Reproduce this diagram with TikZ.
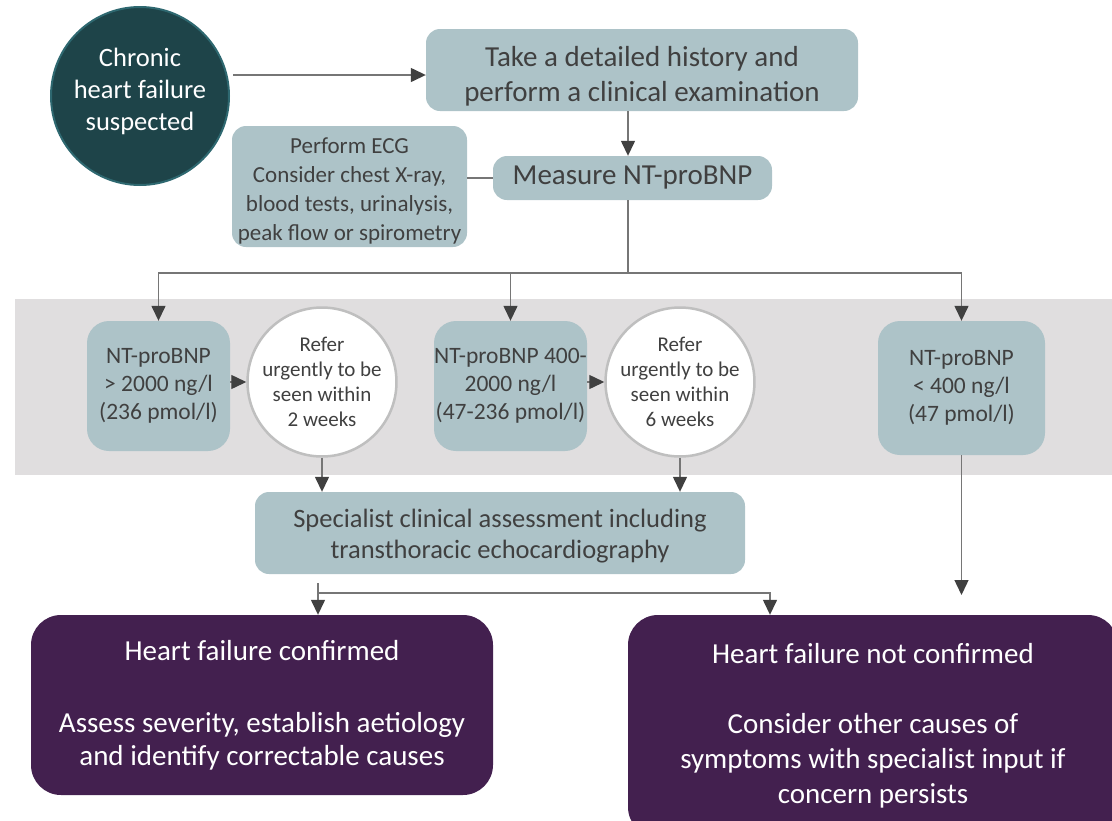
\documentclass[tikz,border=0pt]{standalone}
\usepackage{fontspec}
\setmainfont{Carlito}
\usetikzlibrary{arrows.meta,calc}
\definecolor{boxc}{HTML}{ADC3C8}
\definecolor{txt}{HTML}{404040}
\definecolor{darkteal}{HTML}{1E4449}
\definecolor{tealedge}{HTML}{2E6870}
\definecolor{purp}{HTML}{43204F}
\definecolor{band}{HTML}{E0DEDF}
\definecolor{ringc}{HTML}{BFBFBF}
\definecolor{linec}{HTML}{767676}
\definecolor{arrc}{HTML}{404040}
\tikzset{
  tealbox/.style={fill=boxc, text=txt, align=center, rounded corners=14pt, inner sep=0pt},
  nbox/.style={tealbox, rounded corners=22pt},
  boxtext/.style={text=txt, align=center, inner sep=0pt},
  refer/.style={circle, fill=white, draw=ringc, line width=2.5pt, text=txt, align=center, inner sep=0pt, minimum size=130pt, font={\fontsize{21}{25}\selectfont}},
  purpbox/.style={fill=purp, text=white, align=center, rounded corners=30pt, inner sep=0pt, font={\fontsize{29}{34}\selectfont}},
  ln/.style={draw=linec, line width=1.4pt},
  arr/.style={ln, -{Triangle[length=15pt,width=14pt,color=arrc]}}
}
\begin{document}
\begin{tikzpicture}[x=1pt,y=-1pt]
\useasboundingbox (0,0) rectangle (1112,820);
\clip (0,0) rectangle (1112,820);
% grey band
\fill[band] (15,299) rectangle (1112,475);

% nodes
\node[circle, minimum size=178pt, fill=darkteal, draw=tealedge, line width=2pt, inner sep=0pt,
  label={[font={\fontsize{26.5}{32}\selectfont}, text=white, align=center, yshift=5pt]center:Chronic\\heart failure\\suspected}]
  (chronic) at (140,96) {};
\node[tealbox, minimum width=432pt, minimum height=82pt,
  label={[boxtext, font={\fontsize{29}{35}\selectfont}, yshift=-6pt]center:Take a detailed history and\\perform a clinical examination}]
  (take) at (642,70) {};
\node[tealbox, minimum width=279pt, minimum height=44pt, font={\fontsize{29}{35}\selectfont}]
  (measure) at (632.5,178) {Measure NT-proBNP};
\node[tealbox, minimum width=235pt, minimum height=121pt,
  label={[boxtext, font={\fontsize{23}{29}\selectfont}, yshift=-4pt]center:Perform ECG\\Consider chest X-ray,\\blood tests, urinalysis,\\peak flow or spirometry}]
  (ecg) at (349.5,186.5) {};

\node[nbox, minimum width=143pt, minimum height=130pt, font={\fontsize{23.5}{28}\selectfont}]
  (b1) at (158.5,386) {NT-proBNP\\> 2000 ng/l\\(236 pmol/l)};
\node[refer] (c1) at (322,382) {Refer\\urgently to be\\seen within\\2 weeks};
\node[nbox, minimum width=153pt, minimum height=130pt, font={\fontsize{23.5}{28}\selectfont}]
  (b2) at (510.5,386) {NT-proBNP 400-\\2000 ng/l\\(47-236 pmol/l)};
\node[refer] (c2) at (680,382) {Refer\\urgently to be\\seen within\\6 weeks};
\node[nbox, minimum width=167pt, minimum height=134pt, font={\fontsize{23.5}{28}\selectfont}]
  (b3) at (961.5,388) {NT-proBNP\\< 400 ng/l\\(47 pmol/l)};

\node[tealbox, minimum width=490pt, minimum height=82pt,
  label={[boxtext, font={\fontsize{26.5}{31}\selectfont}, yshift=-3pt]center:Specialist clinical assessment including\\transthoracic echocardiography}]
  (spec) at (500,533) {};

\node[purpbox, minimum width=462pt, minimum height=180pt, font={\fontsize{29}{33}\selectfont}]
  (p1) at (262,705) {Heart failure confirmed\\[39pt]Assess severity, establish aetiology\\and identify correctable causes};
\node[purpbox, minimum width=490pt, minimum height=222pt, font={\fontsize{29}{35}\selectfont}]
  (p2) at (873,726) {Heart failure not confirmed\\[35pt]Consider other causes of\\symptoms with specialist input if\\concern persists};

% connectors
\coordinate (a1) at ([xshift=3pt,yshift=21pt]chronic.east);
\draw[arr] (a1) -- (a1 -| take.west);

\coordinate (xm) at (628,0);
\draw[arr] (take.south -| xm) -- (measure.north -| xm);
\draw[ln] (ecg.east |- measure.west) -- (measure.west);

\coordinate (hub) at (628,273);
\draw[ln] (measure.south -| xm) -- (hub);
\draw[arr] (hub) -| (b1.north);
\draw[arr] (hub) -| (b2.north);
\draw[arr] (hub) -| (b3.north);

\draw[arr] (b1.east |- c1.west) -- (c1.west);
\draw[arr] (b2.east |- c2.west) -- (c2.west);
\draw[arr] (c1.south) -- (c1.south |- spec.north);
\draw[arr] (c2.south) -- (c2.south |- spec.north);

\coordinate (j1) at (318,593);
\coordinate (j2) at (770,593);
\draw[ln] ([yshift=-9pt]spec.south -| j1) -- (j1);
\draw[arr] (j1) -- (j1 |- p1.north);
\draw[arr] (j1) -- (j2) -- (j2 |- p2.north);

\coordinate (e3) at (0,595);
\draw[arr] (b3.south) -- (b3.south |- e3);
\end{tikzpicture}
\end{document}
